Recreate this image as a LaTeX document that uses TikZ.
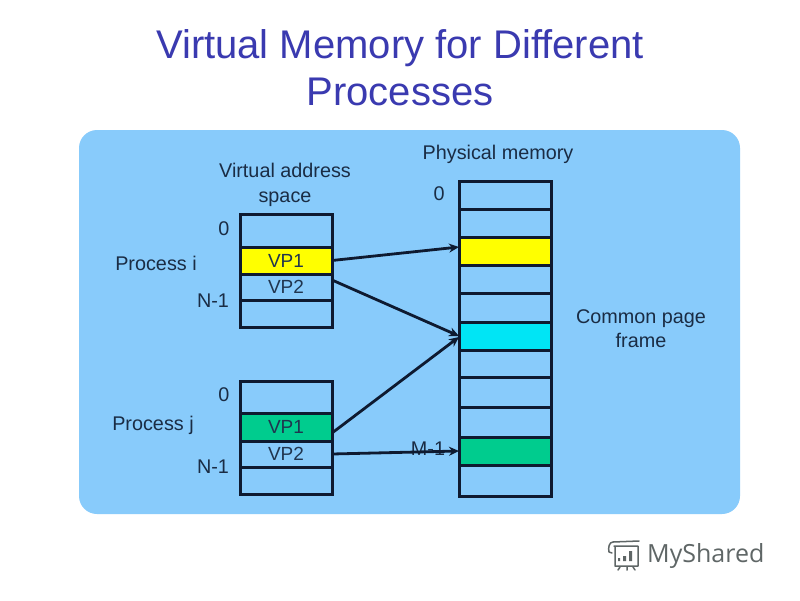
\documentclass[tikz,border=0pt]{standalone}
\usepackage{fontspec}
\setmainfont{Liberation Sans}
\newfontfamily\wmfont{Open Sans}
\definecolor{panel}{HTML}{88CBFB}
\definecolor{titleblue}{HTML}{3A3AB0}
\definecolor{ink}{HTML}{0E1A30}
\definecolor{hiyellow}{HTML}{FFFF00}
\definecolor{hicyan}{HTML}{00E5F5}
\definecolor{higreen}{HTML}{00CC8E}
\definecolor{wmgray}{HTML}{5F6666}
\tikzset{
  px/.style={x=1pt,y=-1pt},
  cellbox/.style={draw=ink,line width=3pt,inner sep=0pt,outer sep=0pt,font=\fontsize{19}{19}\selectfont,text=ink!85!panel},
  lbl/.style={text=ink!90!panel,font=\fontsize{19.8}{24.5}\selectfont,align=center,inner sep=0pt},
  ttl/.style={text=titleblue,font=\fontsize{40}{47}\selectfont,align=center,inner sep=0pt},
  conn/.style={draw=ink,line width=2.8pt,-{Stealth[length=10pt,width=9pt]}},
  wmline/.style={draw=wmgray,line width=1.5pt,line cap=round,line join=round}
}
\usetikzlibrary{arrows.meta}
\newcommand{\cellat}[7]{%
  \node[cellbox,fill=#6,minimum width=#4pt-#2pt,minimum height=#5pt-#3pt,anchor=north west] (#1) at (#2,#3) {#7};}
\begin{document}
\begin{tikzpicture}[px]
\useasboundingbox (0,0) rectangle (800,600);
\fill[white] (0,0) rectangle (800,600);
\fill[panel,rounded corners=18pt] (79,130) rectangle (740,514);
\node[ttl] (title) at (400,68) {Virtual Memory for Different\\Processes};
\node[lbl] (vas) at (285,185) {Virtual address\\space};
\node[lbl] (pm) at (498,154) {Physical memory};
\node[lbl] (cpf) at (641,328.5) {Common page\\frame};
\node[lbl] (pi) at (156,263) {Process i};
\node[lbl] (pj) at (153,425) {Process j};
\node[lbl] (z1) at (224,229) {0};
\node[lbl] (n1) at (213,301) {N-1};
\node[lbl] (z2) at (224,395) {0};
\node[lbl] (n2) at (213,467) {N-1};
\node[lbl] (z3) at (439,194) {0};
% process i
\cellat{ia}{240}{214}{332}{247}{panel}{}
\cellat{ib}{240}{247}{332}{274}{hiyellow}{VP1}
\cellat{ic}{240}{274}{332}{300}{panel}{VP2}
\cellat{id}{240}{300}{332}{327}{panel}{}
% process j
\cellat{ja}{240}{381}{332}{413}{panel}{}
\cellat{jb}{240}{413}{332}{441}{higreen}{VP1}
\cellat{jc}{240}{441}{332}{467}{panel}{VP2}
\cellat{jd}{240}{467}{332}{494}{panel}{}
% physical
\cellat{f1}{459}{181}{551}{209}{panel}{}
\cellat{f2}{459}{209}{551}{237}{panel}{}
\cellat{f3}{459}{237}{551}{265}{hiyellow}{}
\cellat{f4}{459}{265}{551}{293}{panel}{}
\cellat{f5}{459}{293}{551}{322}{panel}{}
\cellat{f6}{459}{322}{551}{350}{hicyan}{}
\cellat{f7}{459}{350}{551}{377}{panel}{}
\cellat{f8}{459}{377}{551}{407}{panel}{}
\cellat{f9}{459}{407}{551}{437}{panel}{}
\cellat{f10}{459}{437}{551}{465}{higreen}{}
\cellat{f11}{459}{465}{551}{496}{panel}{}
\node[lbl] (m1) at (428,449) {M-1};
% connectors
\draw[conn] (ib.east) -- ([yshift=4pt]f3.west);
\draw[conn] ([yshift=7pt]ic.east) -- ([yshift=0pt]f6.west);
\draw[conn] ([yshift=-6pt]jb.east) -- ([yshift=-1pt]f6.west);
\draw[conn] (jc.east) -- (f10.west);
% watermark
\node[text=wmgray,font=\wmfont\fontsize{25}{25}\selectfont,anchor=west,inner sep=0pt] (wm) at (647,556) {MyShared};
\draw[wmline] (613,542) -- (639,541) (614,546) -- (638,546) -- (638,566) -- (615,566) -- (615,546);
\draw[wmline] (613,542) .. controls (609,542) and (608,548) .. (609,552) -- (612,553);
\draw[wmline] (620,567) -- (618,570) (627,567) -- (627,570) (633,567) -- (635,570);
\fill[wmgray] (618,558) rectangle (620,561) (623,556) rectangle (626,561) (629,551) rectangle (632,561);
\end{tikzpicture}
\end{document}
